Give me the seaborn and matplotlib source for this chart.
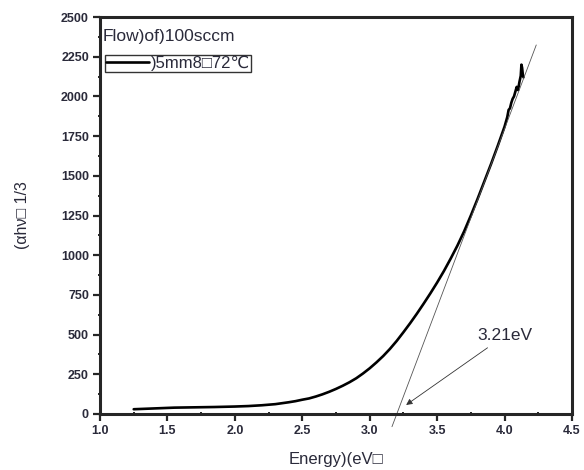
"""
Tauc-style plot: (alpha h nu)^(1/3) versus photon energy, with the
linear extrapolation giving the optical band gap.
"""

import pandas as pd
import matplotlib
matplotlib.use("Agg")
import matplotlib.pyplot as plt
from matplotlib.ticker import MultipleLocator
import seaborn as sns

energy = [1.25, 1.4, 1.55, 1.7, 1.85, 2.0, 2.1, 2.2, 2.3, 2.4, 2.45,
          2.5, 2.55, 2.6, 2.65, 2.7, 2.75, 2.8, 2.85, 2.9, 2.95,
          3.0, 3.05, 3.1, 3.15, 3.2, 3.25, 3.3, 3.35, 3.4, 3.45,
          3.5, 3.55, 3.6, 3.65, 3.7, 3.75, 3.8, 3.85, 3.9, 3.95,
          4.0, 4.02, 4.03, 4.04, 4.05, 4.06, 4.07, 4.08, 4.09, 4.1,
          4.11, 4.12, 4.125, 4.13, 4.135, 4.14]
signal = [30, 35, 40, 42, 44, 47, 50, 55, 62, 74, 81,
          90, 98, 110, 124, 140, 158, 178, 200, 225, 255,
          288, 325, 365, 410, 460, 515, 572, 632, 695, 760,
          828, 900, 978, 1060, 1150, 1250, 1355, 1465, 1575, 1690,
          1810, 1870, 1915, 1925, 1960, 1985, 2000, 2030, 2060, 2040,
          2090, 2130, 2200, 2180, 2140, 2120]

# linear fit used for the band-gap extrapolation
fit_energy = [3.165, 4.235]
fit_signal = [-80, 2324]

gap_label = "3.21eV"
gap_text_pos = (3.80, 495)
gap_arrow_tip = (3.27, 57)

legend_title = "Flow)of)100sccm"
series_label = ")5mm8\u25a172\u2103"
x_label = "Energy)(eV\u25a1"
y_label = "(\u03b1h\u03bd\u25a1 1/3"

x_ticks = [1.0, 1.5, 2.0, 2.5, 3.0, 3.5, 4.0, 4.5]
y_ticks = [0, 250, 500, 750, 1000, 1250, 1500, 1750, 2000, 2250, 2500]

df = pd.DataFrame({"energy": energy, "signal": signal})

sns.set_style("ticks")
plt.rcParams["font.family"] = ["Liberation Sans", "DejaVu Sans"]
text_color = "#2a2a3a"

fig = plt.figure(figsize=(5.84, 4.70), dpi=100)
ax = fig.add_axes([100 / 584, 1 - 414 / 470, 472 / 584, 397 / 470])

sns.lineplot(data=df, x="energy", y="signal", ax=ax, color="black",
             linewidth=1.9, label=series_label, sort=False)
ax.plot(fit_energy, fit_signal, color="#555555", linewidth=0.6,
        clip_on=False)

ax.annotate(gap_label, xy=gap_arrow_tip, xytext=gap_text_pos,
            fontsize=12.5, color=text_color, ha="left", va="center",
            arrowprops=dict(arrowstyle="-|>", color="#333333", lw=0.6,
                            mutation_scale=9, shrinkA=2, shrinkB=0))

ax.set_xlim(1.0, 4.5)
ax.set_ylim(0, 2500)
ax.set_xticks(x_ticks)
ax.set_yticks(y_ticks)
ax.xaxis.set_minor_locator(MultipleLocator(0.25))
ax.yaxis.set_minor_locator(MultipleLocator(125))
ax.set_xticklabels([f"{t:.1f}" for t in x_ticks], fontsize=9,
                   fontweight="bold", color=text_color)
ax.set_yticklabels([str(t) for t in y_ticks], fontsize=9,
                   fontweight="bold", color=text_color)
ax.tick_params(which="major", direction="out", length=5, width=1.6,
               pad=3)
ax.tick_params(which="minor", direction="inout", length=3, width=1.4)

for side in ["left", "right", "top", "bottom"]:
    ax.spines[side].set_visible(True)
    ax.spines[side].set_linewidth(2.2)

ax.set_xlabel(x_label, fontsize=12, color=text_color, labelpad=11)
ax.set_ylabel(y_label, fontsize=11.5, color=text_color, labelpad=22)

ax.text(0.005, 0.97, legend_title, transform=ax.transAxes, fontsize=12.5,
        color=text_color, ha="left", va="top")
leg = ax.legend(loc="upper left", bbox_to_anchor=(0.01, 0.905),
                frameon=True, fancybox=False, fontsize=12, handlelength=2.6,
                handletextpad=0.1, borderpad=0.05, borderaxespad=0)
leg.get_frame().set_edgecolor("black")
leg.get_frame().set_linewidth(1.0)
for txt in leg.get_texts():
    txt.set_color(text_color)

fig.savefig("out.png", dpi=100)
